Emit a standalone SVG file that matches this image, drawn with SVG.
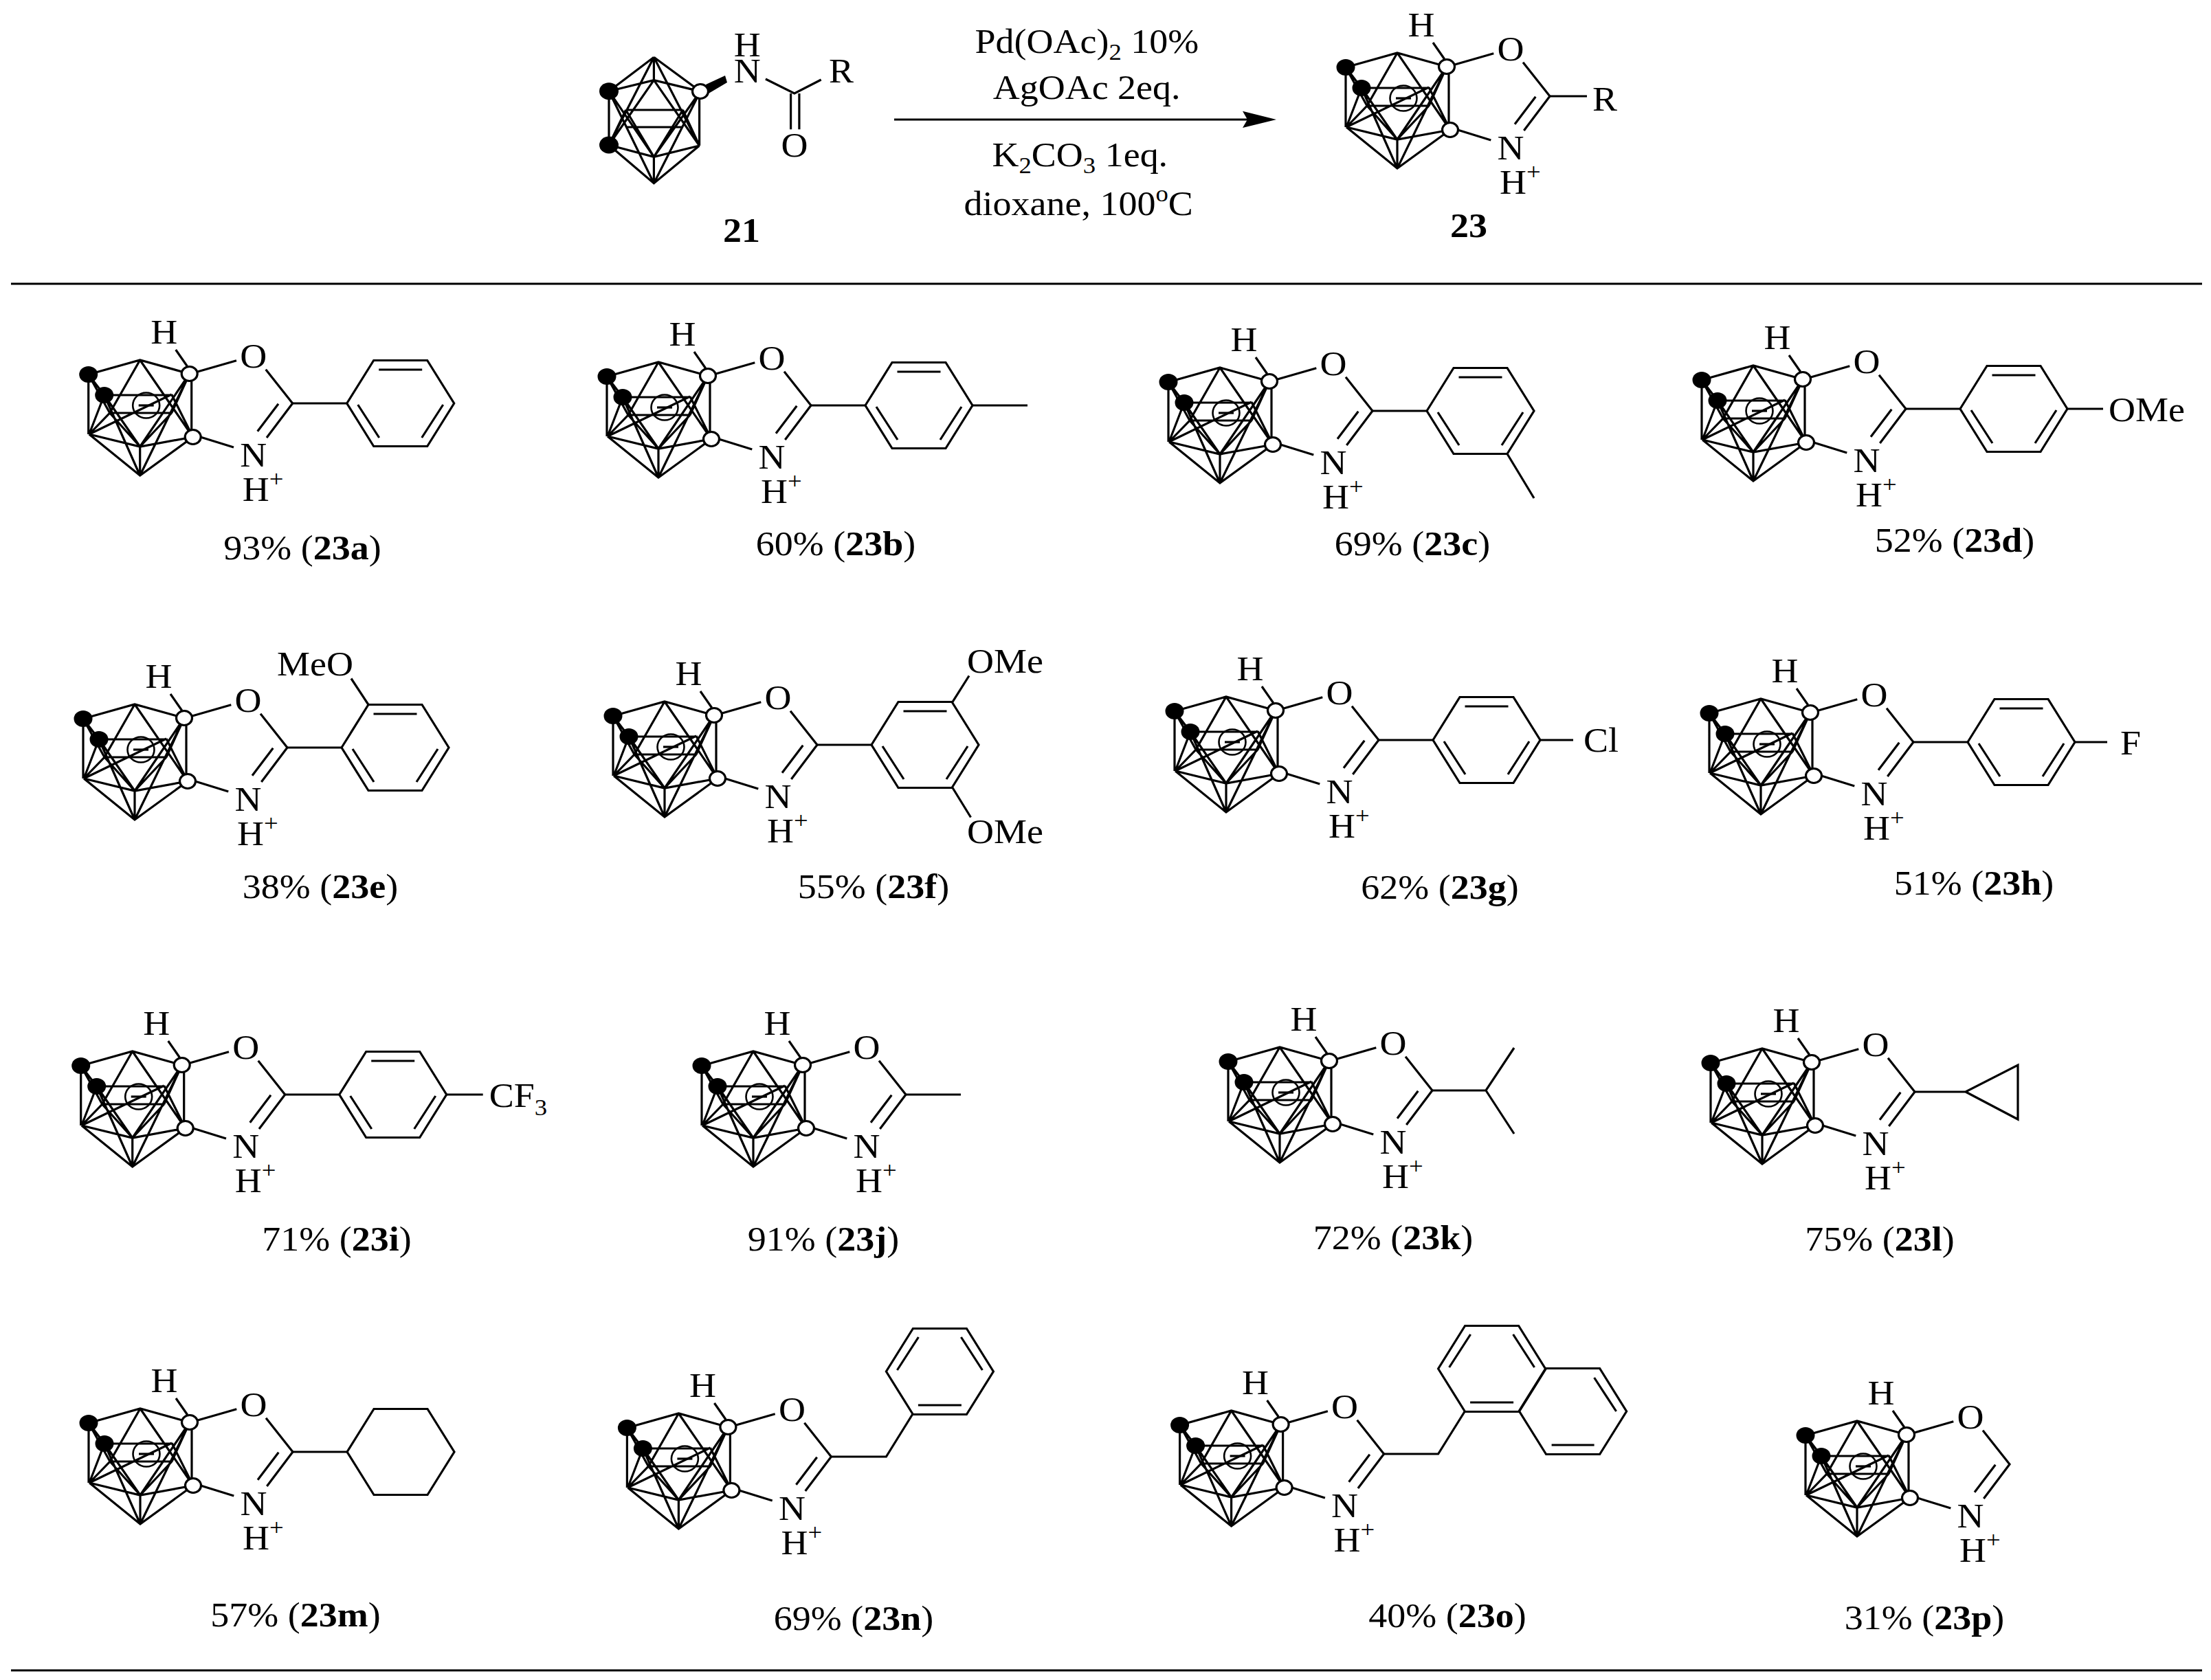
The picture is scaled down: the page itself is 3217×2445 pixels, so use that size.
<svg xmlns="http://www.w3.org/2000/svg" xmlns:xlink="http://www.w3.org/1999/xlink" width="3217" height="2445" viewBox="0 0 3217 2445">
<style>
text{font-family:"Liberation Serif","Times New Roman",serif;font-size:50px;fill:#000}
.a{text-anchor:middle}
.b{font-weight:bold}
.sup{font-size:34px}
.sub{font-size:34px}
.l{fill:none;stroke:#000;stroke-width:3.2;stroke-linejoin:miter;stroke-linecap:butt}
.w{fill:#fff;stroke:#000;stroke-width:3.2}
</style>
<defs>
<g id="core">
<path class="l" d="M-75 21L0 0L72 20M-75 21V108M-75 21L-52 51M-75 21L-44 77M-52 51H46M-44 77H46M-74 108L-52 51M-74 108L-44 77L0 0M-74 108L46 50M-74 108L0 126L77 112M-74 108L0 168L77 112M0 126V168M-52 51L0 126M-52 51L0 168M0 0L77 112M46 50L77 112M-44 77L0 126M46 77L0 126M72 20L46 77M72 20L0 126M72 20L0 168M75 20V112"/>
<ellipse cx="9" cy="66" rx="19.5" ry="18.5" fill="none" stroke="#000" stroke-width="2.6"/>
<path class="l" d="M-2 66H20"/>
<ellipse cx="-75" cy="21" rx="13.5" ry="12"/>
<ellipse cx="-52" cy="51" rx="13.5" ry="12"/>
<ellipse class="w" cx="72" cy="20" rx="11.5" ry="10.5"/>
<ellipse class="w" cx="77" cy="112" rx="11.5" ry="10.5"/>
<path class="l" d="M68.7 9L52 -15M83.7 17L140.3 0.7M183 13.7L222 63L184.3 113M201.3 63.7L171 103.7M88.7 112.3L136.3 127"/>
</g>
<g id="ph">
<path class="l" d="M-78 0L-39 -62.5H39L78 0L39 62.5H-39ZM-31.5 -49H31.5M-62 2L-31 50M62 2L31 50"/>
</g>
<path id="hex" class="l" d="M-78 0L-39 -62.5H39L78 0L39 62.5H-39Z"/>
</defs>

<g id="connectors">
<path class="l" stroke-width="4" d="M1301 174H1815"/>
<path d="M1857 174L1808 161.7L1815 174L1808 186Z"/>
<path class="l" d="M16 413H3204M16 2431H3204"/>
</g>

<g id="node-21">
<path class="l" d="M951.4 83.3L886 132.7M951.4 83.3L1019 133M951.4 83.3V116.7M951.4 83.3L886 211M951.4 83.3L1017.6 212M886 132.7L951.4 116.7L1019 133M886 132.7V211M1017.6 133V212M910.6 160H993.5M910.6 185H993.5M886 132.7L951.4 228.3M1019 133L951.4 228.3M886 132.7L951.4 266.7M1019 133L951.4 266.7M951.4 116.7L886 211M951.4 116.7L1017.6 212M886 211L910.6 160M1017.6 212L993.5 160M910.6 160L951.4 228.3M993.5 160L951.4 228.3M886 211L951.4 228.3L1017.6 212M886 211L951.4 266.7L1017.6 212M951.4 228.3V266.7"/>
<ellipse cx="886" cy="132.7" rx="14" ry="12.5"/>
<ellipse cx="886" cy="211" rx="14" ry="12.5"/>
<ellipse class="w" cx="1019" cy="133" rx="11.5" ry="10.5"/>
<path d="M1027 123L1055 110L1058 120L1031 136Z"/>
<path class="l" d="M1113.9 115L1155.9 136L1194.7 116M1150.6 136V188.3M1162.9 136V188.3"/>
<text class="a" transform="translate(1087.3 82) scale(1.08 1)">H</text>
<text class="a" transform="translate(1087.3 120) scale(1.08 1)">N</text>
<text class="a" transform="translate(1224 120) scale(1.08 1)">R</text>
<text class="a" transform="translate(1155.9 228) scale(1.08 1)">O</text>
<text class="a b" transform="translate(1079 352) scale(1.08 1)">21</text>
</g>

<g id="conditions">
<text transform="translate(1418.6 77) scale(1.08 1)">Pd(OAc)<tspan class="sub" dy="10">2</tspan><tspan dy="-10"> 10%</tspan></text>
<text transform="translate(1444.7 144) scale(1.08 1)">AgOAc 2eq.</text>
<text transform="translate(1443.5 242) scale(1.08 1)">K<tspan class="sub" dy="10">2</tspan><tspan dy="-10">CO</tspan><tspan class="sub" dy="10">3</tspan><tspan dy="-10"> 1eq.</tspan></text>
<text transform="translate(1402.6 313) scale(1.08 1)">dioxane, 100<tspan class="sup" dy="-20">o</tspan><tspan dy="20">C</tspan></text>
</g>

<g id="node-23" transform="translate(2033 77)">
<use href="#core"/>
<path class="l" d="M222 63H276"/>
<text class="a" transform="translate(35 -24) scale(1.08 1)">H</text>
<text class="a" transform="translate(165 11) scale(1.08 1)">O</text>
<text class="a" transform="translate(165 155) scale(1.08 1)">N</text>
<text transform="translate(149 205) scale(1.08 1)">H<tspan class="sup" dy="-21">+</tspan></text>
<text class="a" transform="translate(302 84) scale(1.08 1)">R</text>
<text class="a b" transform="translate(104 268) scale(1.08 1)">23</text>
</g>

<g id="node-23a" transform="translate(203.7 524)">
<use href="#core"/><path class="l" d="M222 63H301"/><use href="#ph" x="379" y="63"/>
<text class="a" transform="translate(35 -24) scale(1.08 1)">H</text>
<text class="a" transform="translate(165 11) scale(1.08 1)">O</text>
<text class="a" transform="translate(165 155) scale(1.08 1)">N</text>
<text transform="translate(149 205) scale(1.08 1)">H<tspan class="sup" dy="-21">+</tspan></text>
</g>
<text class="a" transform="translate(440 814) scale(1.08 1)">93% (<tspan class="b">23a</tspan>)</text>

<g id="node-23b" transform="translate(958 527)">
<use href="#core"/><path class="l" d="M222 63H301M457 63H537"/><use href="#ph" x="379" y="63"/>
<text class="a" transform="translate(35 -24) scale(1.08 1)">H</text>
<text class="a" transform="translate(165 11) scale(1.08 1)">O</text>
<text class="a" transform="translate(165 155) scale(1.08 1)">N</text>
<text transform="translate(149 205) scale(1.08 1)">H<tspan class="sup" dy="-21">+</tspan></text>
</g>
<text class="a" transform="translate(1216 808) scale(1.08 1)">60% (<tspan class="b">23b</tspan>)</text>

<g id="node-23c" transform="translate(1775 535)">
<use href="#core"/><path class="l" d="M222 63H301M418 125.5L457 190"/><use href="#ph" x="379" y="63"/>
<text class="a" transform="translate(35 -24) scale(1.08 1)">H</text>
<text class="a" transform="translate(165 11) scale(1.08 1)">O</text>
<text class="a" transform="translate(165 155) scale(1.08 1)">N</text>
<text transform="translate(149 205) scale(1.08 1)">H<tspan class="sup" dy="-21">+</tspan></text>
</g>
<text class="a" transform="translate(2055 808) scale(1.08 1)">69% (<tspan class="b">23c</tspan>)</text>

<g id="node-23d" transform="translate(2551 532)">
<use href="#core"/><path class="l" d="M222 63H301M457 63H509"/><use href="#ph" x="379" y="63"/>
<text class="a" transform="translate(35 -24) scale(1.08 1)">H</text>
<text class="a" transform="translate(165 11) scale(1.08 1)">O</text>
<text class="a" transform="translate(165 155) scale(1.08 1)">N</text>
<text transform="translate(149 205) scale(1.08 1)">H<tspan class="sup" dy="-21">+</tspan></text>
<text transform="translate(517 81) scale(1.08 1)">OMe</text>
</g>
<text class="a" transform="translate(2844 803) scale(1.08 1)">52% (<tspan class="b">23d</tspan>)</text>

<g id="node-23e" transform="translate(196 1025)">
<use href="#core"/><path class="l" d="M222 63H301M340 0.5L315 -37.5"/><use href="#ph" x="379" y="63"/>
<text class="a" transform="translate(35 -24) scale(1.08 1)">H</text>
<text class="a" transform="translate(165 11) scale(1.08 1)">O</text>
<text class="a" transform="translate(165 155) scale(1.08 1)">N</text>
<text transform="translate(149 205) scale(1.08 1)">H<tspan class="sup" dy="-21">+</tspan></text>
<text transform="translate(318 -42) scale(1.08 1)" text-anchor="end">MeO</text>
</g>
<text class="a" transform="translate(466 1307) scale(1.08 1)">38% (<tspan class="b">23e</tspan>)</text>

<g id="node-23f" transform="translate(967 1021)">
<use href="#core"/><path class="l" d="M222 63H301M419 0.5L443 -37.5M419 125.5L445.5 168.5"/><use href="#ph" x="379" y="63"/>
<text class="a" transform="translate(35 -24) scale(1.08 1)">H</text>
<text class="a" transform="translate(165 11) scale(1.08 1)">O</text>
<text class="a" transform="translate(165 155) scale(1.08 1)">N</text>
<text transform="translate(149 205) scale(1.08 1)">H<tspan class="sup" dy="-21">+</tspan></text>
<text transform="translate(440 -42) scale(1.08 1)">OMe</text>
<text transform="translate(440 206) scale(1.08 1)">OMe</text>
</g>
<text class="a" transform="translate(1271 1307) scale(1.08 1)">55% (<tspan class="b">23f</tspan>)</text>

<g id="node-23g" transform="translate(1784 1014)">
<use href="#core"/><path class="l" d="M222 63H301M457 63H505"/><use href="#ph" x="379" y="63"/>
<text class="a" transform="translate(35 -24) scale(1.08 1)">H</text>
<text class="a" transform="translate(165 11) scale(1.08 1)">O</text>
<text class="a" transform="translate(165 155) scale(1.08 1)">N</text>
<text transform="translate(149 205) scale(1.08 1)">H<tspan class="sup" dy="-21">+</tspan></text>
<text transform="translate(520 80) scale(1.08 1)">Cl</text>
</g>
<text class="a" transform="translate(2095 1308) scale(1.08 1)">62% (<tspan class="b">23g</tspan>)</text>

<g id="node-23h" transform="translate(2562 1017)">
<use href="#core"/><path class="l" d="M222 63H301M457 63H504"/><use href="#ph" x="379" y="63"/>
<text class="a" transform="translate(35 -24) scale(1.08 1)">H</text>
<text class="a" transform="translate(165 11) scale(1.08 1)">O</text>
<text class="a" transform="translate(165 155) scale(1.08 1)">N</text>
<text transform="translate(149 205) scale(1.08 1)">H<tspan class="sup" dy="-21">+</tspan></text>
<text transform="translate(523 81) scale(1.08 1)">F</text>
</g>
<text class="a" transform="translate(2872 1302) scale(1.08 1)">51% (<tspan class="b">23h</tspan>)</text>

<g id="node-23i" transform="translate(192.7 1530)">
<use href="#core"/><path class="l" d="M222 63H301M457 63H510"/><use href="#ph" x="379" y="63"/>
<text class="a" transform="translate(35 -24) scale(1.08 1)">H</text>
<text class="a" transform="translate(165 11) scale(1.08 1)">O</text>
<text class="a" transform="translate(165 155) scale(1.08 1)">N</text>
<text transform="translate(149 205) scale(1.08 1)">H<tspan class="sup" dy="-21">+</tspan></text>
<text transform="translate(519 81) scale(1.08 1)">CF<tspan class="sub" dy="12">3</tspan></text>
</g>
<text class="a" transform="translate(490 1820) scale(1.08 1)">71% (<tspan class="b">23i</tspan>)</text>

<g id="node-23j" transform="translate(1096 1530)">
<use href="#core"/><path class="l" d="M222 63H302"/>
<text class="a" transform="translate(35 -24) scale(1.08 1)">H</text>
<text class="a" transform="translate(165 11) scale(1.08 1)">O</text>
<text class="a" transform="translate(165 155) scale(1.08 1)">N</text>
<text transform="translate(149 205) scale(1.08 1)">H<tspan class="sup" dy="-21">+</tspan></text>
</g>
<text class="a" transform="translate(1198 1820) scale(1.08 1)">91% (<tspan class="b">23j</tspan>)</text>

<g id="node-23k" transform="translate(1862 1524)">
<use href="#core"/><path class="l" d="M222 63H300L341 1M300 63L341 126"/>
<text class="a" transform="translate(35 -24) scale(1.08 1)">H</text>
<text class="a" transform="translate(165 11) scale(1.08 1)">O</text>
<text class="a" transform="translate(165 155) scale(1.08 1)">N</text>
<text transform="translate(149 205) scale(1.08 1)">H<tspan class="sup" dy="-21">+</tspan></text>
</g>
<text class="a" transform="translate(2027 1818) scale(1.08 1)">72% (<tspan class="b">23k</tspan>)</text>

<g id="node-23l" transform="translate(2564 1526)">
<use href="#core"/><path class="l" d="M222 63H296L372 24V103L296 63"/>
<text class="a" transform="translate(35 -24) scale(1.08 1)">H</text>
<text class="a" transform="translate(165 11) scale(1.08 1)">O</text>
<text class="a" transform="translate(165 155) scale(1.08 1)">N</text>
<text transform="translate(149 205) scale(1.08 1)">H<tspan class="sup" dy="-21">+</tspan></text>
</g>
<text class="a" transform="translate(2735 1820) scale(1.08 1)">75% (<tspan class="b">23l</tspan>)</text>

<g id="node-23m" transform="translate(204 2050)">
<use href="#core"/><path class="l" d="M222 63H301"/><use href="#hex" x="379" y="63"/>
<text class="a" transform="translate(35 -24) scale(1.08 1)">H</text>
<text class="a" transform="translate(165 11) scale(1.08 1)">O</text>
<text class="a" transform="translate(165 155) scale(1.08 1)">N</text>
<text transform="translate(149 205) scale(1.08 1)">H<tspan class="sup" dy="-21">+</tspan></text>
</g>
<text class="a" transform="translate(430 2367) scale(1.08 1)">57% (<tspan class="b">23m</tspan>)</text>

<g id="node-23n" transform="translate(987.4 2057)">
<use href="#core"/><path class="l" d="M222 63H302L340.5 1"/><use href="#ph" transform="translate(380 -61) scale(1 -1)"/>
<text class="a" transform="translate(35 -24) scale(1.08 1)">H</text>
<text class="a" transform="translate(165 11) scale(1.08 1)">O</text>
<text class="a" transform="translate(165 155) scale(1.08 1)">N</text>
<text transform="translate(149 205) scale(1.08 1)">H<tspan class="sup" dy="-21">+</tspan></text>
</g>
<text class="a" transform="translate(1242 2372) scale(1.08 1)">69% (<tspan class="b">23n</tspan>)</text>

<g id="node-23o" transform="translate(1791.6 2053)">
<use href="#core"/><path class="l" d="M222 63H301L339.7 1"/><use href="#ph" transform="translate(379 -61) scale(1 -1)"/>
<use href="#hex" x="497" y="1"/>
<path class="l" transform="translate(497 1)" d="M31 -49L63 0M-31 49H31"/>
<text class="a" transform="translate(35 -24) scale(1.08 1)">H</text>
<text class="a" transform="translate(165 11) scale(1.08 1)">O</text>
<text class="a" transform="translate(165 155) scale(1.08 1)">N</text>
<text transform="translate(149 205) scale(1.08 1)">H<tspan class="sup" dy="-21">+</tspan></text>
</g>
<text class="a" transform="translate(2106 2368) scale(1.08 1)">40% (<tspan class="b">23o</tspan>)</text>

<g id="node-23p" transform="translate(2702 2068)">
<use href="#core"/>
<text class="a" transform="translate(35 -24) scale(1.08 1)">H</text>
<text class="a" transform="translate(165 11) scale(1.08 1)">O</text>
<text class="a" transform="translate(165 155) scale(1.08 1)">N</text>
<text transform="translate(149 205) scale(1.08 1)">H<tspan class="sup" dy="-21">+</tspan></text>
</g>
<text class="a" transform="translate(2800 2371) scale(1.08 1)">31% (<tspan class="b">23p</tspan>)</text>
</svg>
